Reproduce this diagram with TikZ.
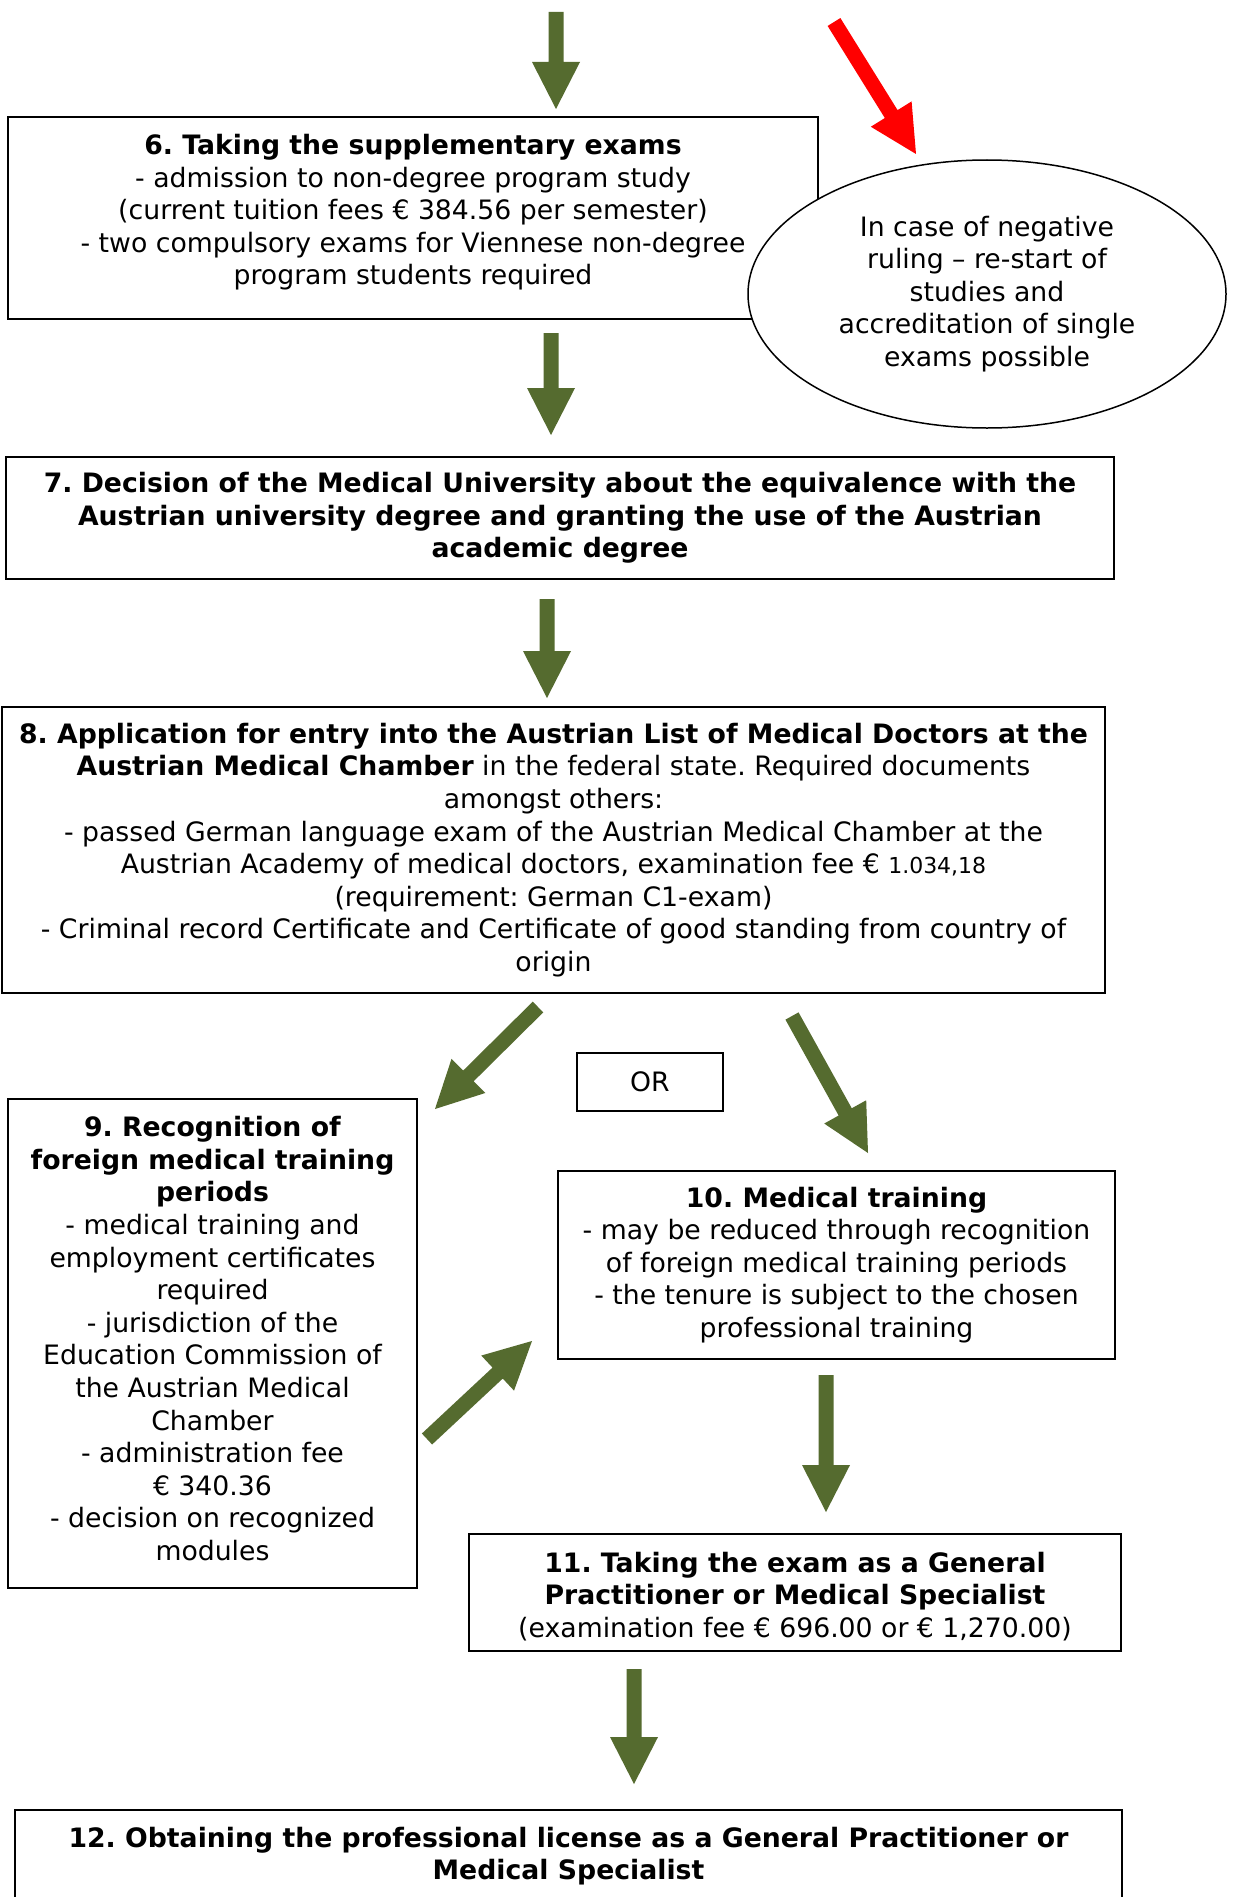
\documentclass[tikz,border=0pt]{standalone}
\usepackage{fontspec}
\setmainfont{DejaVu Sans}
\usetikzlibrary{calc,shapes.geometric}
\definecolor{arrgreen}{RGB}{85,107,47}
\definecolor{arrred}{RGB}{255,0,0}
\newcommand{\blkarrow}[3]{%
  \coordinate (#1h) at ($(#2)!47pt!(#1)$);
  \fill[#3] ($(#1)!7.5pt!90:(#2)$) -- ($(#1h)!7.5pt!-90:(#1)$) -- ($(#1h)!24pt!-90:(#1)$) -- (#2)
    -- ($(#1h)!24pt!90:(#1)$) -- ($(#1h)!7.5pt!90:(#1)$) -- ($(#1)!7.5pt!-90:(#2)$) -- cycle;}
\begin{document}
\frenchspacing
\begin{tikzpicture}[x=1pt,y=-1pt,
  box/.style={draw, line width=1.5pt, inner sep=0pt, align=center, fill=white,
    font=\fontsize{26.7}{32.6}\selectfont},
  oval/.style={box, ellipse}]
\clip (0,0) rectangle (1236,1897);
\fill[white] (0,0) rectangle (1236,1897);
% boxes
\node[box, minimum width=810, minimum height=202] (n6) at (413,218)
 {\textbf{6. Taking the supplementary exams}\\- admission to non-degree program study\\(current tuition fees € 384.56 per semester)\\- two compulsory exams for Viennese non-degree\\program students required\rule[-17pt]{0pt}{0pt}};
\node[oval, minimum width=478, minimum height=268] (e) at (987,294)
 {In case of negative\\ruling – re-start of\\studies and\\accreditation of single\\exams possible};
\node[box, minimum width=1108, minimum height=122] (n7) at (560,518)
 {\textbf{7. Decision of the Medical University about the equivalence with the}\\\textbf{Austrian university degree and granting the use of the Austrian}\\\textbf{academic degree}};
\node[box, minimum width=1103, minimum height=286] (n8) at (553.5,850)
 {\textbf{8. Application for entry into the Austrian List of Medical Doctors at the}\\\textbf{Austrian Medical Chamber} in the federal state. Required documents\\amongst others:\\- passed German language exam of the Austrian Medical Chamber at the\\Austrian Academy of medical doctors, examination fee € {\fontsize{22}{32.6}\selectfont 1.034,18}\\(requirement: German C1-exam)\\- Criminal record Certificate and Certificate of good standing from country of\\origin};
\node[box, minimum width=146, minimum height=58] (or) at (650,1082) {OR};
\node[box, minimum width=409, minimum height=489] (n9) at (212.5,1343.5)
 {\textbf{9. Recognition of}\\\textbf{foreign medical training}\\\textbf{periods}\\- medical training and\\employment certificates\\required\\- jurisdiction of the\\Education Commission of\\the Austrian Medical\\Chamber\\- administration fee\\€ 340.36\\- decision on recognized\\modules\rule[-10pt]{0pt}{0pt}};
\node[box, minimum width=557, minimum height=188] (n10) at (836.5,1265)
 {\textbf{10. Medical training}\\- may be reduced through recognition\\of foreign medical training periods\\- the tenure is subject to the chosen\\professional training};
\node[box, minimum width=652, minimum height=117] (n11) at (795,1592.5)
 {\rule{0pt}{28pt}\textbf{11. Taking the exam as a General}\\\textbf{Practitioner or Medical Specialist}\\(examination fee € 696.00 or € 1,270.00)};
\node[box, minimum width=1107, minimum height=92] (n12) at (568.5,1856)
 {\textbf{12. Obtaining the professional license as a General Practitioner or}\\\textbf{Medical Specialist}};
% arrows
\coordinate (a1s) at (556,12);   \coordinate (a1e) at (556,109);
\coordinate (ars) at (834,22);   \coordinate (are) at (916,154);
\coordinate (a2s) at (551,333);  \coordinate (a2e) at (551,435);
\coordinate (a3s) at (547,599);  \coordinate (a3e) at (547,698);
\coordinate (a4s) at (538,1007); \coordinate (a4e) at (435,1109);
\coordinate (a5s) at (792,1016); \coordinate (a5e) at (868,1153);
\coordinate (a6s) at (427,1439); \coordinate (a6e) at (532,1341);
\coordinate (a7s) at (826,1375); \coordinate (a7e) at (826,1512);
\coordinate (a8s) at (634,1669); \coordinate (a8e) at (634,1784);
\blkarrow{a1s}{a1e}{arrgreen}
\blkarrow{ars}{are}{arrred}
\blkarrow{a2s}{a2e}{arrgreen}
\blkarrow{a3s}{a3e}{arrgreen}
\blkarrow{a4s}{a4e}{arrgreen}
\blkarrow{a5s}{a5e}{arrgreen}
\blkarrow{a6s}{a6e}{arrgreen}
\blkarrow{a7s}{a7e}{arrgreen}
\blkarrow{a8s}{a8e}{arrgreen}
\end{tikzpicture}
\end{document}
